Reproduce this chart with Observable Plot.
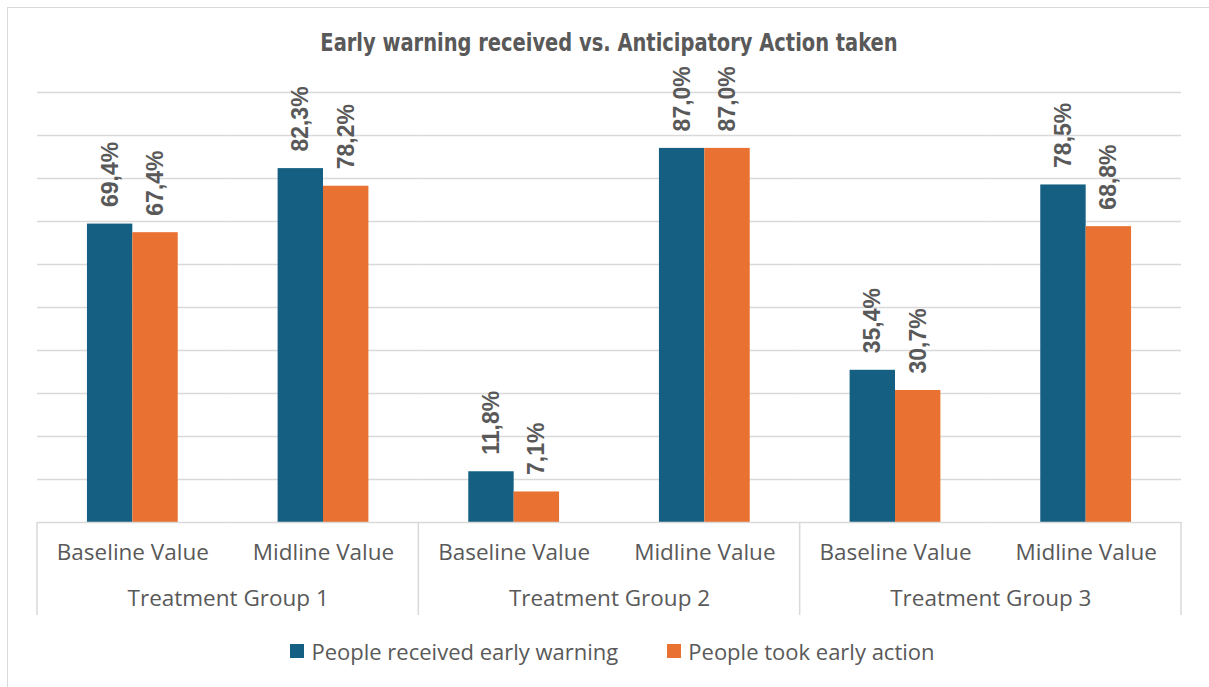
<!DOCTYPE html>
<html>
<head>
<meta charset="utf-8">
<script src="https://cdn.jsdelivr.net/npm/d3@7"></script>
<script src="https://cdn.jsdelivr.net/npm/@observablehq/plot@0.6"></script>
<style>
  body { margin: 0; background: #fff; }
  #wrap { position: relative; width: 1209px; height: 687px; overflow: hidden; background: #fff; color: #595959; font-family: "Open Sans", sans-serif; }
  #border { position: absolute; left: 7px; top: 7px; width: 1230px; height: 700px; border: 1.5px solid #d9d9d9; box-sizing: border-box; }
  #chart { position: absolute; left: 0; top: 0; }
  #title { position: absolute; left: 0; top: 28px; width: 1218px; text-align: center; font-family: "Liberation Sans Narrow", "DejaVu Sans Condensed", sans-serif; font-weight: bold; font-size: 25px; color: #595959; transform: scaleX(0.865); transform-origin: 609px 0; white-space: nowrap; }
  #legend { position: absolute; left: 8px; top: 636px; width: 1209px; display: flex; justify-content: center; gap: 49px; font-size: 22px; color: #595959; }
  #legend .item { display: flex; align-items: center; gap: 7px; }
  #legend .sw { width: 14px; height: 14px; display: inline-block; }
</style>
</head>
<body>
<div id="wrap">
  <div id="border"></div>
  <div id="chart"></div>
  <div id="title">Early warning received vs. Anticipatory Action taken</div>
  <div id="legend"></div>
</div>
<script>
const groups = ["Treatment Group 1", "Treatment Group 2", "Treatment Group 3"];
const periods = ["Baseline Value", "Midline Value"];
const series = ["People received early warning", "People took early action"];
const warned = [69.4, 82.3, 11.8, 87.0, 35.4, 78.5];
const acted = [67.4, 78.2, 7.1, 87.0, 30.7, 68.8];
const colors = ["#156082", "#E97132"];
const yTicks = [10, 20, 30, 40, 50, 60, 70, 80, 90, 100];

const keyOf = (g, p) => g + " | " + p;
const keys = groups.flatMap(g => periods.map(p => keyOf(g, p)));
const periodRows = groups.flatMap(g => periods.map(p => ({key: keyOf(g, p), period: p})));
const groupRows = groups.map(g => ({key: keyOf(g, periods[0]), group: g}));
const rows = [];
keys.forEach((k, i) => {
  rows.push({key: k, series: series[0], value: warned[i]});
  rows.push({key: k, series: series[1], value: acted[i]});
});
const fmt = v => d3.format(".1f")(v).replace(".", ",") + "%";

const chart = Plot.plot({
  width: 1209,
  height: 687,
  marginTop: 92,
  marginBottom: 165,
  marginLeft: 37,
  marginRight: 28,
  style: {fontFamily: "'Open Sans', sans-serif", color: "#595959", background: "transparent"},
  fx: {domain: keys, padding: 0, round: false, axis: null},
  x: {domain: series, paddingInner: 0, paddingOuter: 1.1, round: false, axis: null},
  y: {domain: [0, 100], axis: null},
  color: {domain: series, range: colors},
  marks: [
    Plot.ruleY(yTicks, {stroke: "#d9d9d9", strokeWidth: 1.5}),
    Plot.barY(rows, {fx: "key", x: "series", y: "value", fill: "series"}),
    Plot.ruleY([0], {stroke: "#d9d9d9", strokeWidth: 1.5}),
    Plot.text(rows, {fx: "key", x: "series", y: "value", text: d => fmt(d.value), rotate: -90, textAnchor: "start", lineAnchor: "middle", dy: -17, fontSize: 23, fontWeight: "bold", fontFamily: "'Liberation Sans', Arial, sans-serif", fill: "#595959"}),
    Plot.text(periodRows, {fx: "key", text: "period", frameAnchor: "bottom", textAnchor: "middle", dy: 37, fontSize: 22.5, fill: "#595959"}),
    Plot.text(groupRows, {fx: "key", text: "group", frameAnchor: "bottom-right", textAnchor: "middle", dy: 83, fontSize: 22.5, fill: "#595959"})
  ]
});
document.getElementById("chart").appendChild(chart);

// group separators on the category axis, positioned from Plot's own scales
const fxs = chart.scale("fx");
const yb = chart.scale("y").apply(0);
const edges = groups.map(g => fxs.apply(keyOf(g, periods[0])));
edges.push(fxs.apply(keyOf(groups[groups.length - 1], periods[periods.length - 1])) + fxs.bandwidth);
d3.select(chart).append("g")
  .selectAll("line").data(edges).join("line")
  .attr("x1", d => d).attr("x2", d => d)
  .attr("y1", yb).attr("y2", yb + 93)
  .attr("stroke", "#d9d9d9").attr("stroke-width", 1.5);

const legend = d3.select("#legend");
series.forEach((s, i) => {
  const it = legend.append("div").attr("class", "item");
  it.append("span").attr("class", "sw").style("background", colors[i]);
  it.append("span").text(s);
});
</script>
</body>
</html>
